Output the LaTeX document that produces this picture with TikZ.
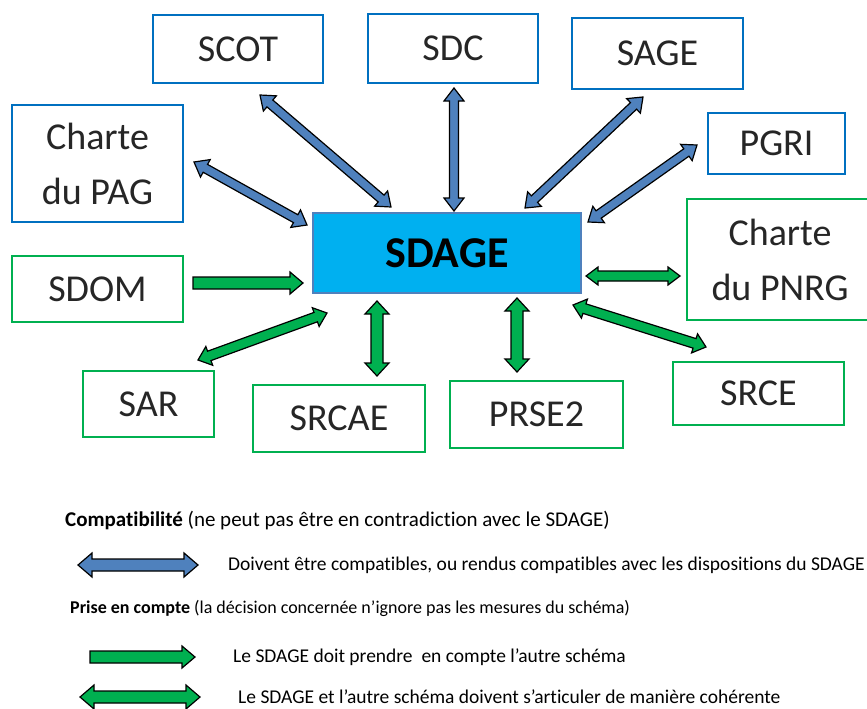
\documentclass[tikz,border=0pt]{standalone}
\usepackage{fontspec}
\setmainfont[Ligatures=NoCommon]{Carlito}
\definecolor{bbord}{HTML}{0070C0}
\definecolor{gbord}{HTML}{00B050}
\definecolor{barr}{HTML}{4F81BD}
\definecolor{garr}{HTML}{00B050}
\definecolor{sdfill}{HTML}{00B0F0}
\definecolor{sdbord}{HTML}{4F81BD}
\definecolor{txt}{HTML}{262626}
% double-headed block arrow: #1 style, #2 start, #3 end, #4 shaft half width, #5 head half width, #6 head length
\newcommand\dblkarrow[6]{%
  \pgfpointdiff{\pgfpointanchor{#2}{center}}{\pgfpointanchor{#3}{center}}%
  \pgfgetlastxy{\baDx}{\baDy}%
  \pgfmathsetmacro\baang{atan2(\baDy,\baDx)}%
  \pgfmathsetmacro\balen{veclen(\baDx,\baDy)}%
  \begin{scope}[shift={(#2)},rotate=\baang]
    \draw[#1] (0,0) -- (#6,#5) -- (#6,#4) -- ({\balen-#6},#4) -- ({\balen-#6},#5) -- (\balen,0)
      -- ({\balen-#6},-#5) -- ({\balen-#6},-#4) -- (#6,-#4) -- (#6,-#5) -- cycle;
  \end{scope}}
% single-headed block arrow
\newcommand\sblkarrow[6]{%
  \pgfpointdiff{\pgfpointanchor{#2}{center}}{\pgfpointanchor{#3}{center}}%
  \pgfgetlastxy{\baDx}{\baDy}%
  \pgfmathsetmacro\baang{atan2(\baDy,\baDx)}%
  \pgfmathsetmacro\balen{veclen(\baDx,\baDy)}%
  \begin{scope}[shift={(#2)},rotate=\baang]
    \draw[#1] (0,#4) -- ({\balen-#6},#4) -- ({\balen-#6},#5) -- (\balen,0)
      -- ({\balen-#6},-#5) -- ({\balen-#6},-#4) -- (0,-#4) -- cycle;
  \end{scope}}
\begin{document}
\begin{tikzpicture}[x=1pt,y=-1pt,
  bbox/.style={draw=bbord,line width=2.6pt,text=txt,font=\fontsize{38}{55}\selectfont,align=center,inner sep=0pt},
  gbox/.style={bbox,draw=gbord},
  barrow/.style={draw=black,line width=1.2pt,fill=barr,line join=miter},
  garrow/.style={barrow,fill=garr},
  legtext/.style={anchor=west,font=\fontsize{19.5}{23}\selectfont,inner sep=0pt,text=black}]
\useasboundingbox (0,0) rectangle (867,709);
\fill[white] (0,0) rectangle (867,709);

% boxes
\node[bbox,minimum width=170pt,minimum height=68pt] (scot) at (238,49) {SCOT};
\node[bbox,minimum width=170pt,minimum height=69pt] (sdc) at (453,48.5) {SDC};
\node[bbox,minimum width=171pt,minimum height=71pt] (sage) at (657.5,53.5) {SAGE};
\node[bbox,minimum width=137pt,minimum height=61pt] (pgri) at (776.5,143.5) {PGRI};
\node[bbox,minimum width=171pt,minimum height=117pt] (pag) at (97.5,163.5) {Charte\\du PAG};
\node[gbox,minimum width=171pt,minimum height=66pt] (sdom) at (97.5,289) {SDOM};
\node[gbox,minimum width=186pt,minimum height=121pt] (pnrg) at (780,259.5) {Charte\\du PNRG};
\node[gbox,minimum width=171pt,minimum height=63pt] (srce) at (758.5,393.5) {SRCE};
\node[gbox,minimum width=131pt,minimum height=66pt] (sar) at (148.5,404) {SAR};
\node[gbox,minimum width=172pt,minimum height=67pt] (srcae) at (339,418.5) {SRCAE};
\node[gbox,minimum width=173pt,minimum height=67pt] (prse) at (536.5,414.5) {PRSE2};
\node[draw=sdbord,line width=2pt,fill=sdfill,minimum width=268pt,minimum height=80pt,
      font=\fontsize{44}{50}\selectfont\bfseries,text=black,inner sep=0pt] (sdage) at (447,253) {SDAGE};

% arrow end points
\coordinate (pagA) at (194,162);   \coordinate (pagB) at (307,225);
\coordinate (scotA) at (260,95);   \coordinate (scotB) at (391,207);
\coordinate (sdcA) at (454,88);    \coordinate (sdcB) at (454,211);
\coordinate (sageA) at (643,97);   \coordinate (sageB) at (525,208);
\coordinate (pgriA) at (697,145);  \coordinate (pgriB) at (588,222);
\coordinate (sdomA) at (193,283);  \coordinate (sdomB) at (303,283);
\coordinate (sarA) at (198,360);   \coordinate (sarB) at (327,313);
\coordinate (srcaeA) at (377,376); \coordinate (srcaeB) at (377,301);
\coordinate (prseA) at (517,372);  \coordinate (prseB) at (517,298);
\coordinate (pnrgA) at (586,276);  \coordinate (pnrgB) at (680,276);
\coordinate (srceA) at (573,305);  \coordinate (srceB) at (706,347);

\dblkarrow{barrow}{pagA}{pagB}{4.5}{10}{13}
\dblkarrow{barrow}{scotA}{scotB}{4.5}{10}{13}
\dblkarrow{barrow}{sdcA}{sdcB}{4.5}{10}{13}
\dblkarrow{barrow}{sageA}{sageB}{4.5}{10}{13}
\dblkarrow{barrow}{pgriA}{pgriB}{4.5}{10}{13}
\sblkarrow{garrow}{sdomA}{sdomB}{6}{11}{13}
\dblkarrow{garrow}{sarA}{sarB}{5}{10}{12}
\dblkarrow{garrow}{srcaeA}{srcaeB}{6}{12}{13}
\dblkarrow{garrow}{prseA}{prseB}{6}{12}{13}
\dblkarrow{garrow}{pnrgA}{pnrgB}{5}{9}{12}
\dblkarrow{garrow}{srceA}{srceB}{5}{10}{12}

% legend
\node[legtext,font=\fontsize{21}{25}\selectfont] (l1) at (65,521) {\textbf{Compatibilité} (ne peut pas être en contradiction avec le SDAGE)};
\coordinate (lgA) at (78,565); \coordinate (lgB) at (198,565);
\dblkarrow{barrow}{lgA}{lgB}{6}{12}{14}
\node[legtext] (l2) at (228,565) {Doivent être compatibles, ou rendus compatibles avec les dispositions du SDAGE};
\node[legtext,font=\fontsize{18}{22}\selectfont] (l3) at (70,608) {\textbf{Prise en compte} (la décision concernée n’ignore pas les mesures du schéma)};
\coordinate (lhA) at (90,657); \coordinate (lhB) at (195,657);
\sblkarrow{garrow}{lhA}{lhB}{6}{11}{13}
\node[legtext] (l4) at (233,657) {Le SDAGE doit prendre\ \ en compte l’autre schéma};
\coordinate (liA) at (80,697); \coordinate (liB) at (200,697);
\dblkarrow{garrow}{liA}{liB}{6}{12}{14}
\node[legtext] (l5) at (238,697) {Le SDAGE et l’autre schéma doivent s’articuler de manière cohérente};
\end{tikzpicture}
\end{document}
